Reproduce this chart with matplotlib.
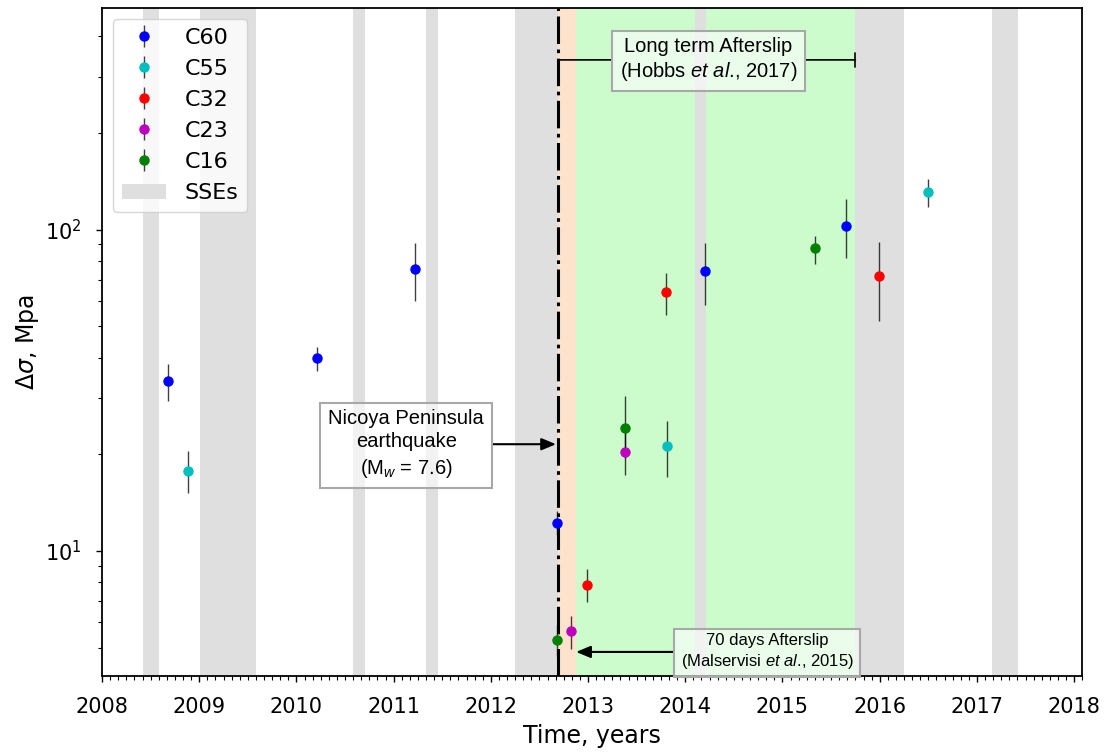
import matplotlib
matplotlib.use("Agg")
import matplotlib.pyplot as plt
from matplotlib.patches import Patch
from matplotlib.ticker import MultipleLocator, NullFormatter, LogLocator
import numpy as np

# ---------------- data ----------------
c60_t = [2008.68, 2010.21, 2011.22, 2012.68, 2014.20, 2015.65]
c60_v = [33.9, 39.9, 75.6, 12.2, 74.2, 103.0]
c60_lo = [29.3, 36.4, 60.1, 11.2, 58.2, 81.8]
c60_hi = [38.2, 43.3, 91.1, 13.3, 91.1, 125.0]

c55_t = [2008.88, 2013.81, 2016.50]
c55_v = [17.7, 21.2, 131.0]
c55_lo = [15.2, 17.0, 118.0]
c55_hi = [20.5, 25.4, 144.0]

c32_t = [2012.99, 2013.80, 2015.99]
c32_v = [7.85, 64.0, 71.9]
c32_lo = [6.95, 54.4, 52.1]
c32_hi = [8.77, 73.3, 91.8]

c23_t = [2012.82, 2013.38]
c23_v = [5.65, 20.4]
c23_lo = [4.97, 17.3]
c23_hi = [6.28, 23.7]

c16_t = [2012.68, 2013.38, 2015.33]
c16_v = [5.28, 24.2, 87.7]
c16_lo = [4.70, 19.5, 78.3]
c16_hi = [5.88, 30.4, 95.7]

series_names = ["C60", "C55", "C32", "C23", "C16"]
series_colors = ["b", "c", "r", "m", "g"]

sse_start = [2008.42, 2009.01, 2010.585, 2011.33, 2012.25, 2014.10, 2015.75, 2017.16]
sse_end = [2008.59, 2009.58, 2010.71, 2011.46, 2012.69, 2014.21, 2016.25, 2017.42]

eq_time = 2012.69
short_afterslip_end = 2012.877
long_afterslip_end = 2015.75

xticks = list(range(2008, 2019))

# ---------------- style ----------------
plt.rcParams['mathtext.fontset'] = 'dejavusans'
plt.rcParams['mathtext.rm'] = 'Liberation Sans'
plt.rcParams['mathtext.it'] = 'Liberation Sans:italic'
plt.rcParams['mathtext.bf'] = 'Liberation Sans:bold'

fig = plt.figure(figsize=(11.09, 7.52), dpi=100)
ax = fig.add_axes([0.092, 0.101, 0.884, 0.889])

# bands
for s, e in zip(sse_start, sse_end):
    ax.axvspan(s, e, color='#dfdfdf', lw=0, zorder=0.5)
ax.axvspan(eq_time, short_afterslip_end, color='#fde3cc', lw=0, zorder=0.4)
ax.axvspan(short_afterslip_end, long_afterslip_end, color='#ccfccc', lw=0, zorder=0.3)

ax.axvline(eq_time, color='k', ls=(0, (9, 1.8, 1.2, 1.8)), lw=2.2, zorder=2)

# points
all_series = [
    (c60_t, c60_v, c60_lo, c60_hi),
    (c55_t, c55_v, c55_lo, c55_hi),
    (c32_t, c32_v, c32_lo, c32_hi),
    (c23_t, c23_v, c23_lo, c23_hi),
    (c16_t, c16_v, c16_lo, c16_hi),
]
handles = []
for (t, v, lo, hi), name, col in zip(all_series, series_names, series_colors):
    v = np.array(v)
    yerr = [v - np.array(lo), np.array(hi) - v]
    h = ax.errorbar(t, v, yerr=yerr, fmt='o', color=col, ms=6.5,
                    ecolor=(0, 0, 0, 0.75), elinewidth=1.0, capsize=0,
                    label=name, zorder=3)
    handles.append(h)
handles.append(Patch(facecolor='#dfdfdf', edgecolor='none', label='SSEs'))

ax.legend(handles=handles, loc='upper left', fontsize=16, labelspacing=0.5)

# annotations
box = dict(boxstyle='square,pad=0.4', fc=(1, 1, 1, 0.6), ec='#a8a8a8', lw=1.5)
afont = dict(family='Liberation Sans', math_fontfamily='custom')
arrow = dict(arrowstyle='-|>,head_length=0.6,head_width=0.25', lw=1.5, color='k',
             shrinkA=0, shrinkB=0, mutation_scale=14.5)

ax.annotate('Nicoya Peninsula\nearthquake\n(M$_{w}$ = 7.6)',
            xy=(eq_time - 0.02, 21.5), xytext=(2011.13, 21.5),
            ha='center', va='center', fontsize=14.5, bbox=box, linespacing=1.3,
            arrowprops=arrow, zorder=5, **afont)

ax.annotate('70 days Afterslip\n(Malservisi $\\mathit{et\\ al}$., 2015)',
            xy=(short_afterslip_end, 4.85), xytext=(2014.84, 4.85),
            ha='center', va='center', fontsize=12, bbox=box, linespacing=1.25,
            arrowprops=arrow, zorder=5, **afont)

long_txt = 'Long term Afterslip\n(Hobbs $\\mathit{et\\ al}$., 2017)'
ax.annotate(long_txt, xy=(long_afterslip_end, 338), xytext=(2014.24, 338),
            ha='center', va='center', fontsize=14.5, bbox=box, linespacing=1.25,
            arrowprops=dict(arrowstyle='-[, widthB=0.35, lengthB=0', lw=1.2,
                            color='k', shrinkA=0, shrinkB=0),
            zorder=5, **afont)
ax.annotate(long_txt, xy=(eq_time, 338), xytext=(2014.24, 338),
            ha='center', va='center', fontsize=14.5, color='none', linespacing=1.25,
            bbox=dict(boxstyle='square,pad=0.4', fc='none', ec='none'),
            arrowprops=dict(arrowstyle='-', lw=1.2, color='k', shrinkA=0, shrinkB=0),
            zorder=4, **afont)

# axes
ax.set_yscale('log')
ax.set_xlim(2008, 2018.085)
ax.set_ylim(4.08, 492)
ax.set_xticks(xticks)
ax.set_xticklabels([str(x) for x in xticks])
ax.xaxis.set_minor_locator(MultipleLocator(1 / 12))
ax.yaxis.set_minor_locator(LogLocator(base=10, subs=np.arange(2, 10)))
ax.yaxis.set_minor_formatter(NullFormatter())
ax.tick_params(axis='both', which='major', labelsize=15, length=4.3, width=1, pad=10.5)
ax.tick_params(axis='both', which='minor', length=2.8, width=0.8)
for sp in ax.spines.values():
    sp.set_linewidth(1.3)

ax.set_xlabel('Time, years', fontsize=17, labelpad=5)
ax.set_ylabel('$\\Delta\\sigma$, Mpa', fontsize=17, labelpad=3)

fig.savefig('out.png', dpi=100)
